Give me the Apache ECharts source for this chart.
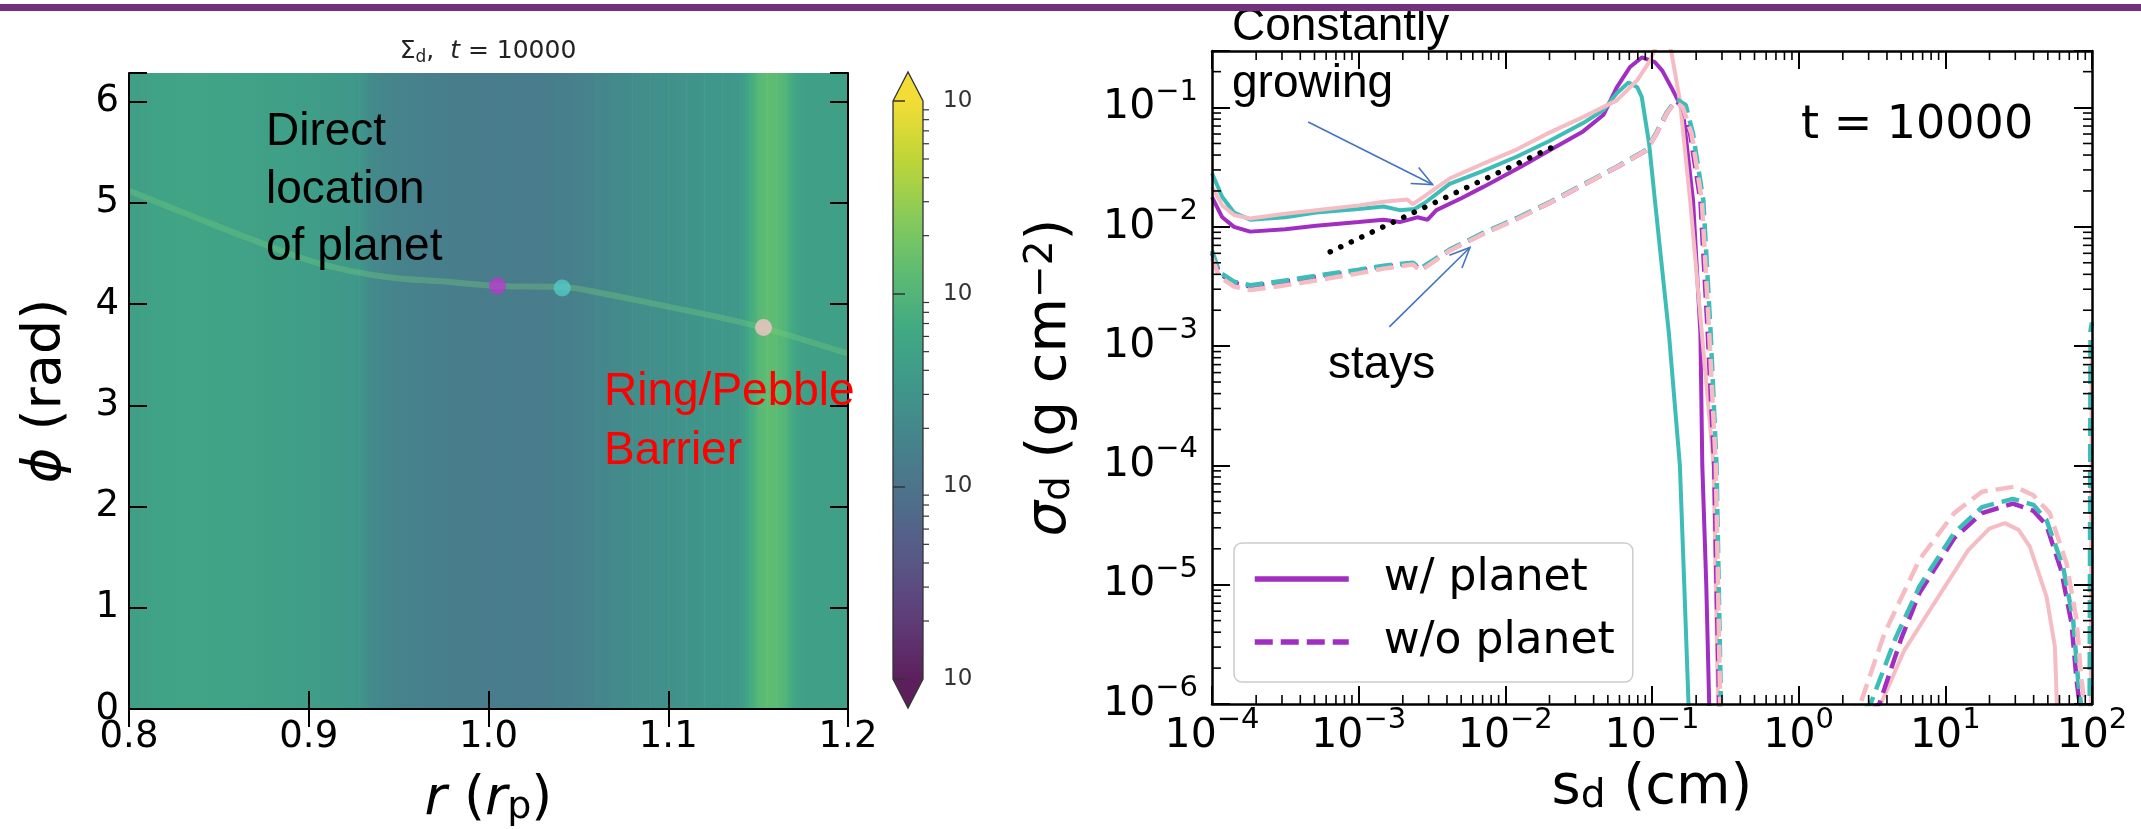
<!DOCTYPE html>
<html><head><meta charset="utf-8">
<script src="https://cdn.jsdelivr.net/npm/echarts@6/dist/echarts.min.js"></script>
<style>html,body{margin:0;padding:0;background:#fff;}#c{width:2141px;height:829px;}</style>
</head><body><div id="c"></div>
<script>
// ================= DATA =================
// Left panel: radial profile of log10(Sigma_d) (vertical bands of the map)
const radialR = [0.800,0.810,0.820,0.830,0.840,0.850,0.860,0.870,0.880,0.890,0.900,0.910,0.920,0.928,0.934,0.940,0.950,0.960,0.970,0.980,0.990,1.000,1.010,1.020,1.030,1.040,1.050,1.060,1.070,1.080,1.090,1.100,1.110,1.120,1.130,1.140,1.145,1.150,1.155,1.160,1.165,1.170,1.175,1.180,1.190,1.200];
const radialLogSigma = [-1.35,-1.32,-1.29,-1.275,-1.275,-1.29,-1.305,-1.32,-1.335,-1.35,-1.38,-1.41,-1.44,-1.47,-1.65,-1.71,-1.77,-1.80,-1.83,-1.845,-1.86,-1.875,-1.86,-1.875,-1.86,-1.83,-1.80,-1.74,-1.68,-1.62,-1.59,-1.56,-1.53,-1.50,-1.485,-1.44,-1.20,-0.96,-0.87,-0.90,-1.02,-1.26,-1.335,-1.35,-1.35,-1.35];
// planet wake ridge (r, phi)
const wakeR   = [0.800,0.835,0.871,0.906,0.942,0.977,1.005,1.041,1.065,1.101,1.136,1.154,1.200];
const wakePhi = [5.12,4.87,4.62,4.40,4.27,4.22,4.18,4.17,4.10,3.97,3.84,3.76,3.51];
// planet markers
const planetR   = [1.005, 1.041, 1.153];
const planetPhi = [4.18, 4.16, 3.77];
// colourbar range (log10 Sigma)
const cbMinExp = -3, cbMaxExp = 0;

// Right panel: log10(s_d [cm]) and log10(sigma_d)
const purpleSolidLogS  = [-4.0,-3.93,-3.85,-3.74,-3.5,-3.29,-3.0,-2.83,-2.72,-2.6,-2.53,-2.47,-2.3,-2.15,-1.9,-1.7,-1.47,-1.33,-1.24,-1.15,-1.07,-0.98,-0.93,-0.86,-0.79,-0.72,-0.67,-0.657,-0.63,-0.61,-0.6];
const purpleSolidLogSig= [-1.75,-1.92,-2.0,-2.04,-2.02,-1.99,-1.96,-1.94,-1.96,-1.92,-1.94,-1.86,-1.76,-1.665,-1.5,-1.36,-1.20,-1.06,-0.83,-0.66,-0.58,-0.62,-0.69,-0.85,-1.02,-1.78,-2.89,-4.0,-5.0,-6.0,-7.0];
const tealSolidLogS  = [-4.0,-3.93,-3.85,-3.74,-3.5,-3.29,-3.0,-2.83,-2.72,-2.62,-2.55,-2.38,-2.15,-1.92,-1.7,-1.47,-1.33,-1.24,-1.16,-1.10,-1.07,-1.02,-0.98,-0.885,-0.81,-0.78,-0.751,-0.74];
const tealSolidLogSig= [-1.55,-1.75,-1.88,-1.94,-1.92,-1.88,-1.85,-1.83,-1.86,-1.85,-1.80,-1.64,-1.53,-1.41,-1.28,-1.13,-1.02,-0.88,-0.79,-0.83,-0.91,-1.30,-1.78,-2.89,-4.0,-5.0,-6.0,-7.0];
const pinkSolidLogS  = [-4.0,-3.93,-3.85,-3.74,-3.5,-3.29,-3.0,-2.83,-2.67,-2.63,-2.56,-2.38,-2.15,-1.92,-1.7,-1.47,-1.24,-1.10,-1.01,-0.96,-0.91,-0.87,-0.81,-0.74,-0.66,-0.58,-0.565,-0.55,-0.54, 0.56,0.72,0.87,1.156,1.30,1.406,1.50,1.576,1.69,1.747,1.759,1.765,1.99,1.998];
const pinkSolidLogSig= [-1.665,-1.82,-1.90,-1.93,-1.89,-1.86,-1.82,-1.79,-1.77,-1.81,-1.75,-1.595,-1.47,-1.35,-1.21,-1.08,-0.94,-0.77,-0.60,-0.45,-0.42,-0.52,-0.94,-1.78,-2.89,-4.0,-5.0,-6.0,-7.0, -6.0,-5.55,-5.26,-4.71,-4.53,-4.484,-4.54,-4.68,-5.1,-5.52,-5.94,-7.0,-7.0,-3.0];
const purpleDashLogS  = [-4.0,-3.95,-3.85,-3.74,-3.5,-3.29,-3.0,-2.83,-2.63,-2.58,-2.48,-2.38,-2.15,-1.92,-1.7,-1.47,-1.24,-1.04,-0.97,-0.90,-0.84,-0.79,-0.74,-0.67,-0.62,-0.576,-0.56,-0.542,-0.53, 0.55,0.70,0.823,1.06,1.25,1.46,1.60,1.689,1.79,1.86,1.895,1.915,1.93];
const purpleDashLogSig= [-2.22,-2.39,-2.47,-2.50,-2.46,-2.42,-2.37,-2.335,-2.305,-2.36,-2.28,-2.195,-2.055,-1.93,-1.80,-1.65,-1.50,-1.36,-1.22,-1.05,-0.94,-1.0,-1.22,-1.78,-2.89,-4.0,-5.0,-6.0,-7.0, -6.0,-5.45,-5.07,-4.61,-4.40,-4.32,-4.38,-4.50,-4.88,-5.32,-5.80,-6.0,-7.0];
const tealDashLogS  = [-4.0,-3.95,-3.85,-3.74,-3.5,-3.29,-3.0,-2.83,-2.63,-2.58,-2.48,-2.38,-2.15,-1.92,-1.7,-1.47,-1.24,-1.04,-0.97,-0.90,-0.83,-0.77,-0.72,-0.65,-0.60,-0.56,-0.545,-0.53,-0.52, 0.49,0.66,0.823,1.06,1.25,1.46,1.60,1.689,1.803,1.871,1.905,1.925,1.94,1.982,1.99,2.0];
const tealDashLogSig= [-2.20,-2.38,-2.46,-2.49,-2.45,-2.41,-2.36,-2.325,-2.30,-2.35,-2.27,-2.19,-2.05,-1.925,-1.795,-1.645,-1.495,-1.355,-1.21,-1.04,-0.93,-0.98,-1.22,-1.78,-2.89,-4.0,-5.0,-6.0,-7.0, -6.0,-5.45,-5.015,-4.566,-4.35,-4.28,-4.33,-4.456,-4.85,-5.29,-5.80,-6.0,-7.0,-7.0,-2.87,-2.8];
const pinkDashLogS  = [-4.0,-3.95,-3.85,-3.74,-3.5,-3.29,-3.0,-2.83,-2.63,-2.58,-2.48,-2.38,-2.15,-1.92,-1.7,-1.47,-1.24,-1.04,-0.97,-0.90,-0.84,-0.79,-0.73,-0.66,-0.61,-0.565,-0.55,-0.535,-0.52, 0.42,0.586,0.823,1.06,1.25,1.474,1.60,1.712,1.826,1.894,1.928,1.95,1.97];
const pinkDashLogSig= [-2.26,-2.42,-2.50,-2.53,-2.49,-2.45,-2.39,-2.35,-2.315,-2.37,-2.285,-2.20,-2.06,-1.935,-1.80,-1.65,-1.50,-1.36,-1.22,-1.05,-0.95,-1.0,-1.22,-1.78,-2.89,-4.0,-5.0,-6.0,-7.0, -6.0,-5.405,-4.79,-4.40,-4.22,-4.178,-4.25,-4.40,-4.82,-5.29,-5.80,-6.0,-7.0];
// dotted power-law guide
const guideS   = [6.4e-4, 2.07e-2];
const guideSig = [6.18e-3, 4.62e-2];
// tick labels
const leftXTicks = ['0.8','0.9','1.0','1.1','1.2'];
const rightPowers = [-6,-5,-4,-3,-2,-1,0,1,2];

// ================= STYLE / HELPERS =================
const PURPLE='#a12dc2', TEAL='#3ebdb8', PINK='#f6bcc4';
const DV='DejaVu Sans', AR='"Liberation Sans", Arial, Helvetica, sans-serif';
const VIR=['#440154','#482475','#414487','#355f8d','#2a788e','#21918c','#22a884','#44bf70','#7ad151','#bddf26','#fde725'];
function h2r(h){return [parseInt(h.substr(1,2),16),parseInt(h.substr(3,2),16),parseInt(h.substr(5,2),16)];}
const WASH=[200,170,130], WA=0.18;
function cmapT(t){t=Math.max(0,Math.min(1,t));const f=t*10;const i=Math.min(9,Math.floor(f));const u=f-i;
  const a=h2r(VIR[i]),b=h2r(VIR[i+1]);const c=a.map((v,k)=>v+(b[k]-v)*u).map((v,k)=>Math.round(v*(1-WA)+WASH[k]*WA));
  return 'rgb('+c.join(',')+')';}
function cmapV(v){return cmapT((v-cbMinExp)/(cbMaxExp-cbMinExp));}
const pairs = (xs,ys) => xs.map((x,i)=>[Math.pow(10,x),Math.pow(10,ys[i])]);
function isDecade(v){const l=Math.log10(v);return Math.abs(l-Math.round(l))<1e-6;}
function supLabel(v){ if(!isDecade(v))return ''; const e=Math.round(Math.log10(v)); if(rightPowers.indexOf(e)<0) return '';
  return '{b|10}{s|'+(e<0?'\u2212'+(-e):e)+'}';}
const powRich={b:{fontFamily:DV,fontSize:41,color:'#000',lineHeight:60},s:{fontFamily:DV,fontSize:29,color:'#000',verticalAlign:'top',lineHeight:34}};
function minorVals(lo,hi,max){const o=[];for(let e=lo;e<hi;e++)for(let k=2;k<=9;k++){const v=k*Math.pow(10,e);if(!max||v<=max)o.push(v);}return o;}

// heat-map bands
const bandData = radialR.slice(0,-1).map((r,i)=>[r, radialR[i+1], radialLogSigma[i], radialLogSigma[i+1]]);

const axLine={show:true,lineStyle:{color:'#000',width:2}};
const tickIn=(len,w)=>({show:true,inside:true,length:len,lineStyle:{color:'#000',width:w}});
const TWO_PI=2*Math.PI;

const option={
  animation:false, backgroundColor:'#fff',
  textStyle:{fontFamily:DV},
  grid:[
    {left:129,top:73,width:719,height:636,outerBoundsMode:'none',containLabel:false},
    {left:1212,top:51,width:880,height:653,outerBoundsMode:'none',containLabel:false},
    {left:893,top:101,width:30,height:578,outerBoundsMode:'none',containLabel:false}
  ],
  xAxis:[
    {gridIndex:0,type:'value',min:0.8,max:1.2,interval:0.1,position:'bottom',z:6,axisLine:axLine,axisTick:tickIn(18,2),splitLine:{show:false},
     axisLabel:{fontSize:37,color:'#000',margin:10,formatter:(v)=>{const s=v.toFixed(1);return leftXTicks.indexOf(s)>=0?s:'';}},
     name:'{i|r} ({i|r}{sub|p})',nameLocation:'middle',nameGap:64,nameMoveOverlap:false,
     nameTextStyle:{fontFamily:DV,fontSize:54,color:'#000',rich:{i:{fontFamily:DV,fontSize:54,fontStyle:'italic',color:'#000'},sub:{fontFamily:DV,fontSize:38,color:'#000',verticalAlign:'bottom',lineHeight:46}}}},
    {gridIndex:0,type:'value',min:0.8,max:1.2,interval:0.1,position:'top',z:6,axisLine:axLine,axisTick:tickIn(18,2),axisLabel:{show:false},splitLine:{show:false}},
    {gridIndex:1,type:'log',logBase:10,min:1e-4,max:100,position:'bottom',z:6,axisLine:{show:true,lineStyle:{color:'#000',width:2.5}},axisTick:tickIn(18,2),splitLine:{show:false},
     axisLabel:{margin:2,formatter:supLabel,rich:powRich},
     name:'s{sub|d} (cm)',nameLocation:'middle',nameGap:56,nameMoveOverlap:false,
     nameTextStyle:{fontFamily:DV,fontSize:56,color:'#000',rich:{sub:{fontFamily:DV,fontSize:39,color:'#000',verticalAlign:'bottom',lineHeight:52}}}},
    {gridIndex:1,type:'log',logBase:10,min:1e-4,max:100,position:'top',z:6,axisLine:{show:true,lineStyle:{color:'#000',width:2.5}},axisTick:tickIn(18,2),axisLabel:{show:false},splitLine:{show:false}},
    {gridIndex:2,type:'value',min:0,max:1,show:false}
  ],
  yAxis:[
    {gridIndex:0,type:'value',min:0,max:TWO_PI,interval:1,position:'left',z:6,axisLine:axLine,axisTick:tickIn(18,2),splitLine:{show:false},
     axisLabel:{fontSize:37,color:'#000',margin:10,formatter:(v)=>(Math.abs(v-Math.round(v))<1e-6&&v<=6)?String(Math.round(v)):''},
     name:'{i|\u03d5} (rad)',nameLocation:'middle',nameRotate:90,nameGap:56,nameMoveOverlap:false,
     nameTextStyle:{fontFamily:DV,fontSize:54,color:'#000',rich:{i:{fontFamily:DV,fontSize:54,fontStyle:'italic',color:'#000'}}}},
    {gridIndex:0,type:'value',min:0,max:TWO_PI,interval:1,position:'right',z:6,axisLine:axLine,axisTick:tickIn(18,2),axisLabel:{show:false},splitLine:{show:false}},
    {gridIndex:1,type:'log',logBase:10,min:1e-6,max:0.298,position:'left',z:6,axisLine:{show:true,lineStyle:{color:'#000',width:2.5}},axisTick:tickIn(18,2),splitLine:{show:false},
     axisLabel:{margin:14,formatter:supLabel,rich:powRich},
     name:'{i|\u03c3}{sub|d} (g cm{sup|\u22122})',nameLocation:'middle',nameRotate:90,nameGap:134,nameMoveOverlap:false,
     nameTextStyle:{fontFamily:DV,fontSize:56,color:'#000',rich:{i:{fontFamily:DV,fontSize:56,fontStyle:'italic',color:'#000'},sub:{fontFamily:DV,fontSize:39,color:'#000',verticalAlign:'bottom',lineHeight:50},sup:{fontFamily:DV,fontSize:39,color:'#000',verticalAlign:'top',lineHeight:50}}}},
    {gridIndex:1,type:'log',logBase:10,min:1e-6,max:0.298,position:'right',z:6,axisLine:{show:true,lineStyle:{color:'#000',width:2.5}},axisTick:tickIn(18,2),axisLabel:{show:false},splitLine:{show:false}},
    {gridIndex:2,type:'log',logBase:10,min:Math.pow(10,cbMinExp),max:Math.pow(10,cbMaxExp),position:'right',z:6,
     axisLine:{show:false},axisTick:{show:true,inside:false,length:12,lineStyle:{color:'#333',width:1.5}},splitLine:{show:false},
     axisLabel:{margin:20,fontSize:23,color:'#333',formatter:(v)=>isDecade(v)?'10':''}}
  ],
  legend:{
    data:['w/ planet','w/o planet'],orient:'vertical',left:1234,top:543,
    padding:[14,18,18,18],itemGap:19,itemWidth:94,itemHeight:30,
    itemStyle:{opacity:0,borderWidth:0},lineStyle:{width:5.5},
    backgroundColor:'rgba(255,255,255,0.85)',borderColor:'#cccccc',borderWidth:1.5,borderRadius:8,
    textStyle:{fontFamily:DV,fontSize:44,color:'#000',padding:[0,0,0,30]}
  },
  series:[
    // heat map bands
    {type:'custom',name:'map',xAxisIndex:0,yAxisIndex:0,clip:true,silent:true,z:1,data:bandData,
     renderItem:(p,api)=>{const r0=api.value(0),r1=api.value(1);const a=api.coord([r0,TWO_PI]),b=api.coord([r1,0]);
       return {type:'rect',shape:{x:a[0],y:a[1],width:b[0]-a[0]+0.6,height:b[1]-a[1]},
         style:{fill:{type:'linear',x:0,y:0,x2:1,y2:0,colorStops:[{offset:0,color:cmapV(api.value(2))},{offset:1,color:cmapV(api.value(3))}]}}};}},
    // wake
    {type:'line',name:'wake',xAxisIndex:0,yAxisIndex:0,z:2,smooth:0.4,symbol:'none',silent:true,
     data:wakeR.map((r,i)=>[r,wakePhi[i]]),lineStyle:{color:'rgba(120,205,120,0.35)',width:6}},
    // planets
    {type:'scatter',name:'planets',xAxisIndex:0,yAxisIndex:0,z:3,symbolSize:17,silent:true,
     data:planetR.map((r,i)=>({value:[r,planetPhi[i]],itemStyle:{color:[ '#b53cc9','#52c9c6','#f6c4cb'][i]}}))},
    // colourbar
    {type:'custom',name:'cbar',xAxisIndex:4,yAxisIndex:4,clip:false,silent:true,z:2,data:[[0,Math.pow(10,cbMinExp)]],
     renderItem:(p,api)=>{const a=api.coord([0,Math.pow(10,cbMaxExp)]),b=api.coord([1,Math.pow(10,cbMinExp)]);
       const x=a[0],y=a[1],w=b[0]-a[0],h=b[1]-a[1],ah=29;const stops=[];for(let k=0;k<=20;k++)stops.push({offset:k/20,color:cmapT(1-k/20)});
       const ticks=[];minorVals(cbMinExp,cbMaxExp).forEach(v=>{const yy=api.coord([0,v])[1];ticks.push({type:'line',shape:{x1:x+w,y1:yy,x2:x+w+6,y2:yy},style:{stroke:'#333',lineWidth:1.2}});});
       return {type:'group',children:[
         {type:'rect',shape:{x:x,y:y,width:w,height:h},style:{fill:{type:'linear',x:0,y:0,x2:0,y2:1,colorStops:stops}}},
         {type:'polygon',shape:{points:[[x,y+0.5],[x+w,y+0.5],[x+w/2,y-ah]]},style:{fill:cmapT(1)}},
         {type:'polygon',shape:{points:[[x,y+h-0.5],[x+w,y+h-0.5],[x+w/2,y+h+ah]]},style:{fill:cmapT(0)}},
         {type:'polygon',shape:{points:[[x,y],[x+w/2,y-ah],[x+w,y],[x+w,y+h],[x+w/2,y+h+ah],[x,y+h]]},style:{fill:'none',stroke:'#333',lineWidth:1.3}}
       ].concat(ticks)};}},
    // right panel minor ticks
    {type:'custom',name:'minor',xAxisIndex:2,yAxisIndex:2,clip:false,silent:true,z:7,data:[[1,1e-3]],
     renderItem:(p,api)=>{const cs=p.coordSys;const ch=[];const L=9;
       minorVals(-4,2).forEach(v=>{const x=api.coord([v,1e-3])[0];
         ch.push({type:'line',shape:{x1:x,y1:cs.y+cs.height,x2:x,y2:cs.y+cs.height-L},style:{stroke:'#000',lineWidth:1.6}});
         ch.push({type:'line',shape:{x1:x,y1:cs.y,x2:x,y2:cs.y+L},style:{stroke:'#000',lineWidth:1.6}});});
       minorVals(-6,0,0.298).forEach(v=>{const y=api.coord([1,v])[1];
         ch.push({type:'line',shape:{x1:cs.x,y1:y,x2:cs.x+L,y2:y},style:{stroke:'#000',lineWidth:1.6}});
         ch.push({type:'line',shape:{x1:cs.x+cs.width,y1:y,x2:cs.x+cs.width-L,y2:y},style:{stroke:'#000',lineWidth:1.6}});});
       return {type:'group',children:ch};}},
    // curves
    {type:'line',name:'w/ planet',xAxisIndex:2,yAxisIndex:2,symbol:'none',clip:true,z:3,data:pairs(purpleSolidLogS,purpleSolidLogSig),color:PURPLE,lineStyle:{color:PURPLE,width:4}},
    {type:'line',name:'teal solid',xAxisIndex:2,yAxisIndex:2,symbol:'none',clip:true,z:3,data:pairs(tealSolidLogS,tealSolidLogSig),color:TEAL,lineStyle:{color:TEAL,width:4}},
    {type:'line',name:'pink solid',xAxisIndex:2,yAxisIndex:2,symbol:'none',clip:true,z:3,data:pairs(pinkSolidLogS,pinkSolidLogSig),color:PINK,lineStyle:{color:PINK,width:4}},
    {type:'line',name:'w/o planet',xAxisIndex:2,yAxisIndex:2,symbol:'none',clip:true,z:3,data:pairs(purpleDashLogS,purpleDashLogSig),color:PURPLE,lineStyle:{color:PURPLE,width:4.5,type:[18,8]}},
    {type:'line',name:'teal dashed',xAxisIndex:2,yAxisIndex:2,symbol:'none',clip:true,z:3,data:pairs(tealDashLogS,tealDashLogSig),color:TEAL,lineStyle:{color:TEAL,width:4.5,type:[18,8]}},
    {type:'line',name:'pink dashed',xAxisIndex:2,yAxisIndex:2,symbol:'none',clip:true,z:3,data:pairs(pinkDashLogS,pinkDashLogSig),color:PINK,lineStyle:{color:PINK,width:4.5,type:[18,8]}},
    {type:'line',name:'guide',xAxisIndex:2,yAxisIndex:2,symbol:'none',clip:true,z:4,data:guideS.map((s,i)=>[s,guideSig[i]]),lineStyle:{color:'#000',width:5.5,type:[0.1,11.5],cap:'round'}}
  ]
};
const chart=echarts.init(document.getElementById('c'),null,{renderer:'canvas',width:2141,height:829});
chart.setOption(option);

// ---------- annotations ----------
const arrowGrow  = {from:[Math.pow(10,-3.344),Math.pow(10,-1.121)], to:[Math.pow(10,-2.496),Math.pow(10,-1.645)]};
const arrowStays = {from:[Math.pow(10,-2.791),Math.pow(10,-2.838)], to:[Math.pow(10,-2.241),Math.pow(10,-2.173)]};
function arrowEls(a){
  const f=chart.convertToPixel({xAxisIndex:2,yAxisIndex:2},a.from), t=chart.convertToPixel({xAxisIndex:2,yAxisIndex:2},a.to);
  const ang=Math.atan2(t[1]-f[1],t[0]-f[0]), L=22, da=0.42;
  const p1=[t[0]-L*Math.cos(ang-da),t[1]-L*Math.sin(ang-da)], p2=[t[0]-L*Math.cos(ang+da),t[1]-L*Math.sin(ang+da)];
  const st={stroke:'#4472c4',lineWidth:1.6,fill:'none'};
  return [{type:'line',shape:{x1:f[0],y1:f[1],x2:t[0],y2:t[1]},style:st,z:20},
          {type:'polyline',shape:{points:[p1,t,p2]},style:st,z:20}];
}
const txt=(x,y,s,font,fill)=>({type:'text',x:x,y:y,z:20,style:{text:s,font:font,fill:fill||'#000',align:'left',verticalAlign:'middle'}});
const F46='46px '+AR;
chart.setOption({graphic:[
  {type:'rect',shape:{x:0,y:4,width:2141,height:7},style:{fill:'#74307f'},z:30},
  {type:'text',x:488,y:51,z:20,style:{text:'{a|\u03a3}{sub|d}{a|,  }{i|t}{a| = 10000}',align:'center',verticalAlign:'middle',
     rich:{a:{fontFamily:DV,fontSize:25,fill:'#222'},i:{fontFamily:DV,fontSize:25,fontStyle:'italic',fill:'#222'},sub:{fontFamily:DV,fontSize:17,fill:'#222',verticalAlign:'bottom',lineHeight:30}}}},
  txt(266,132,'Direct',F46),txt(266,190,'location',F46),txt(266,247,'of planet',F46),
  txt(604,392,'Ring/Pebble',F46,'#ff0000'),txt(604,451,'Barrier',F46,'#ff0000'),
  txt(1232,27,'Constantly',F46),txt(1232,84,'growing',F46),txt(1328,365,'stays',F46),
  txt(1801,126,'t = 10000','46px "DejaVu Sans"')
].concat(arrowEls(arrowGrow)).concat(arrowEls(arrowStays))});
</script></body></html>
